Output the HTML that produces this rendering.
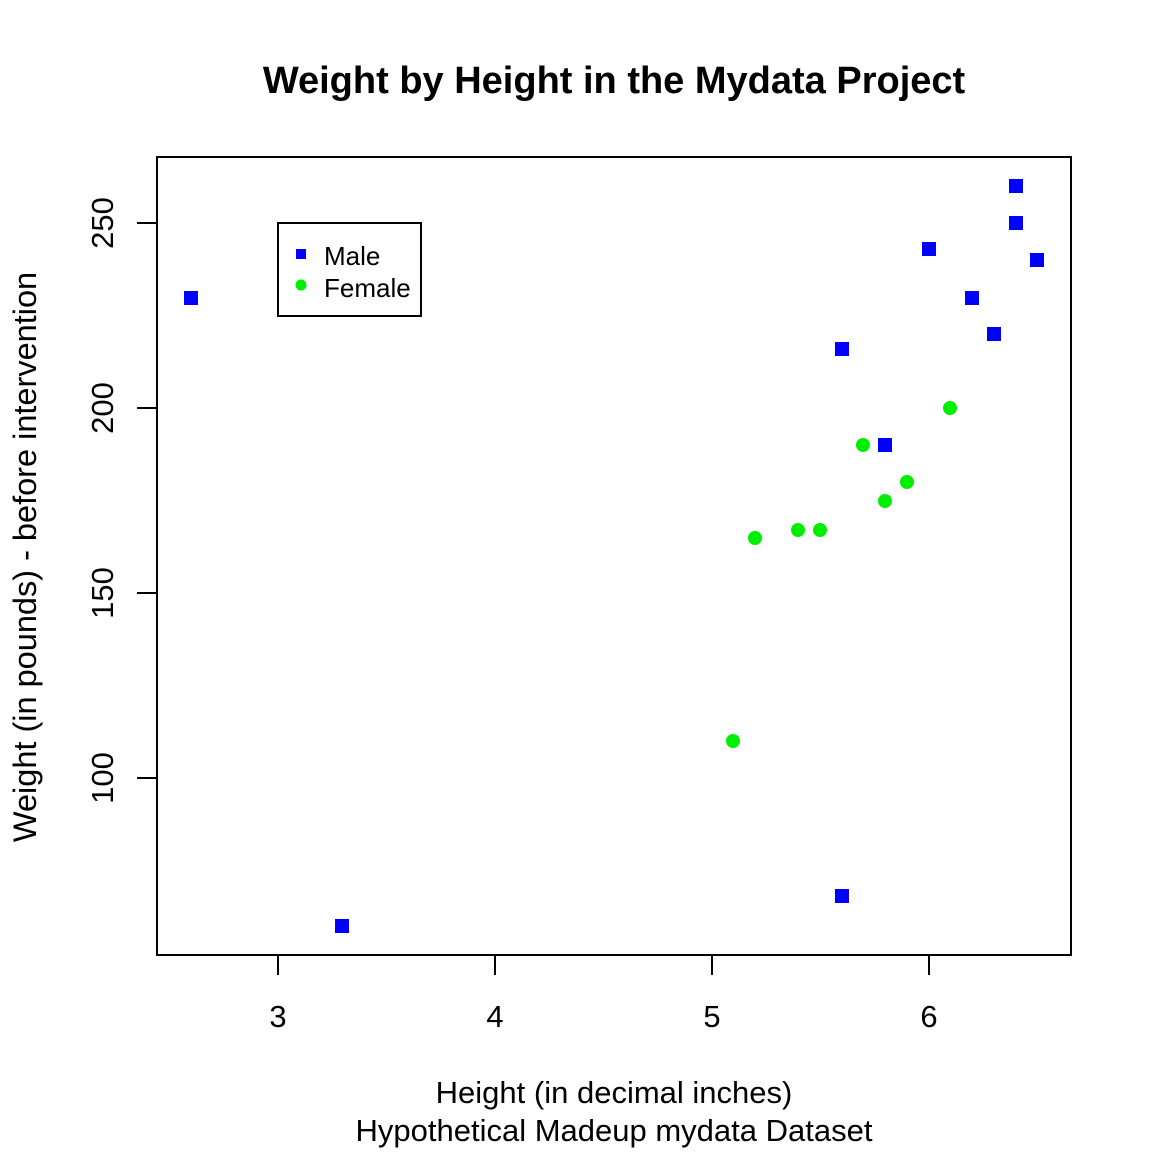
<!DOCTYPE html>
<html><head><style>body{margin:0;background:#fff}svg{display:block}</style></head><body>
<svg width="1152" height="1152" xmlns="http://www.w3.org/2000/svg" font-family="Liberation Sans, Arial, sans-serif">
<rect width="1152" height="1152" fill="#fff"/>
<text x="614" y="93" font-size="38" font-weight="bold" text-anchor="middle">Weight by Height in the Mydata Project</text>
<rect x="157" y="157" width="914" height="798" fill="none" stroke="#000" stroke-width="2"/>
<g stroke="#000" stroke-width="2">
<line x1="278" y1="955" x2="929" y2="955"/>
<line x1="278" y1="955" x2="278" y2="975"/><line x1="495" y1="955" x2="495" y2="975"/><line x1="712" y1="955" x2="712" y2="975"/><line x1="929" y1="955" x2="929" y2="975"/>
<line x1="157" y1="223" x2="157" y2="778"/>
<line x1="157" y1="223" x2="137" y2="223"/><line x1="157" y1="408" x2="137" y2="408"/><line x1="157" y1="593" x2="137" y2="593"/><line x1="157" y1="778" x2="137" y2="778"/>
</g>
<g font-size="31" text-anchor="middle">
<text x="278" y="1027">3</text><text x="495" y="1027">4</text><text x="712" y="1027">5</text><text x="929" y="1027">6</text>
<text transform="translate(113,223) rotate(-90)">250</text>
<text transform="translate(113,408) rotate(-90)">200</text>
<text transform="translate(113,593) rotate(-90)">150</text>
<text transform="translate(113,778) rotate(-90)">100</text>
<text x="614" y="1103">Height (in decimal inches)</text>
<text x="614" y="1141">Hypothetical Madeup mydata Dataset</text>
<text transform="translate(36,557) rotate(-90)" font-size="32.5">Weight (in pounds) - before intervention</text>
</g>
<g fill="#0000ff">
<rect x="184" y="291" width="14" height="14"/><rect x="335" y="919" width="14" height="14"/>
<rect x="835" y="342" width="14" height="14"/><rect x="835" y="889" width="14" height="14"/>
<rect x="878" y="438" width="14" height="14"/><rect x="922" y="242" width="14" height="14"/>
<rect x="965" y="291" width="14" height="14"/><rect x="987" y="327" width="14" height="14"/>
<rect x="1009" y="179" width="14" height="14"/><rect x="1009" y="216" width="14" height="14"/>
<rect x="1030" y="253" width="14" height="14"/>
</g>
<g fill="#00ee00">
<circle cx="733" cy="741" r="7"/><circle cx="755" cy="538" r="7"/><circle cx="798" cy="530" r="7"/>
<circle cx="820" cy="530" r="7"/><circle cx="863" cy="445" r="7"/><circle cx="885" cy="501" r="7"/>
<circle cx="907" cy="482" r="7"/><circle cx="950" cy="408" r="7"/>
</g>
<rect x="278" y="223" width="143" height="93" fill="none" stroke="#000" stroke-width="2"/>
<rect x="296" y="249" width="10" height="10" fill="#0000ff"/>
<circle cx="301" cy="285" r="5.5" fill="#00ee00"/>
<g font-size="26"><text x="324" y="265">Male</text><text x="324" y="297">Female</text></g>
</svg>
</body></html>
